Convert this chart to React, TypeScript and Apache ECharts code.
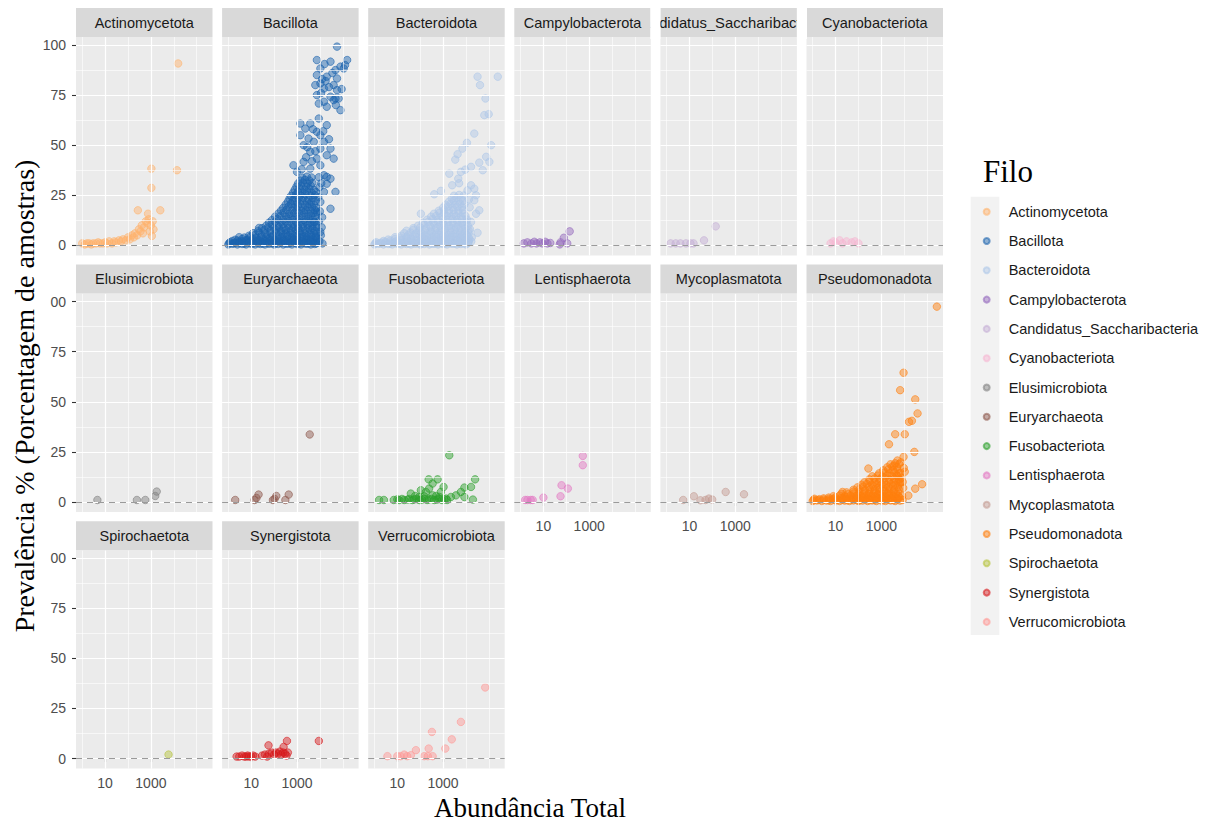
import React, { useEffect, useRef } from "react";
import * as echarts from "echarts";

const phyla = [
  "Actinomycetota", "Bacillota", "Bacteroidota", "Campylobacterota", "Candidatus_Saccharibacteria", "Cyanobacteriota",
  "Elusimicrobiota", "Euryarchaeota", "Fusobacteriota", "Lentisphaerota", "Mycoplasmatota", "Pseudomonadota",
  "Spirochaetota", "Synergistota", "Verrucomicrobiota",
];
const phylumColors = [
  "#FFB26B", "#1B63AE", "#AEC7E8", "#9467BD", "#C5B0D5", "#F7B6D2",
  "#7F7F7F", "#8C564B", "#2CA02C", "#E377C2", "#C49C94", "#FF7F0E",
  "#B5C23A", "#D7191C", "#FF9896",
];
const yTicks = [0, 25, 50, 75, 100];
const yMinorGrid = [12.5, 37.5, 62.5, 87.5];
const xTicks = [10, 1000];
const xMinorGrid = [1, 100, 10000, 100000];
const xTitle = "Abundância Total";
const yTitle = "Prevalência % (Porcentagem de amostras)";
const legendTitle = "Filo";

// [abundância total, prevalência %]
const actinomycetota = [
  [1, 1], [1.3, 0.5], [1.6, 1], [2, 1], [2.5, 0.5], [3, 1], [4, 1], [5, 1.5], [6, 1], [8, 1], [10, 1.5], [12, 1],
  [15, 2], [20, 1], [25, 2], [30, 1.5], [40, 2.5], [50, 2], [60, 3], [80, 2.5], [100, 4], [120, 3], [150, 5],
  [180, 4], [200, 6], [250, 5], [270, 17.5], [300, 8], [350, 7], [400, 10], [450, 6], [500, 9], [600, 12],
  [700, 11], [750, 15.8], [800, 13], [900, 7], [1000, 10], [1050, 38.3], [1050, 28.7], [1100, 4.7], [1200, 12],
  [1300, 8], [2570, 17.5], [13800, 37.5], [15500, 90.8],
];
const bacillota = [
  [56000, 99.2], [7400, 92.5], [155000, 92.5], [29000, 91.7], [10500, 88.3], [79000, 89.2], [48000, 87.5],
  [110000, 88.3], [126000, 90], [16000, 90.5], [7400, 85], [20000, 84.2], [56000, 83.3], [35000, 86], [12600, 83],
  [17800, 82], [10500, 80.8], [40000, 80], [6300, 80], [25000, 79], [89000, 78], [15000, 78.3], [56000, 77.5],
  [11200, 76], [7400, 75], [29000, 74.2], [66000, 73.3], [48000, 73.3], [40000, 72.5], [15000, 71.7], [9000, 70.8],
  [50000, 70], [20000, 69.2], [79000, 67.5],
  [9000, 63.3], [1400, 60.8], [3800, 60.8], [20000, 60], [2300, 58.3], [5000, 58], [14000, 57], [7400, 56.7],
  [10500, 55], [1400, 55], [3200, 53.3], [25000, 53], [15000, 51.7], [5400, 51.7], [1950, 50], [2800, 49],
  [10500, 48.3], [29000, 48.3], [6300, 47], [3800, 46.7], [20000, 45], [2500, 44], [7400, 43.3], [40000, 43.3],
  [4500, 42], [1950, 41.7], [10500, 40], [700, 40], [3800, 38.3], [1600, 38], [1000, 36.7], [15000, 35],
  [20000, 34.2], [29000, 33.3], [20000, 30.8], [15000, 26.7], [48000, 26.7], [10500, 21.7], [29000, 18.3],
  [7400, 16.7], [5400, 11.7], [10500, 6.7], [7400, 3.3], [22, 8.7],
  [9500, 2], [11000, 5], [9000, 12], [12000, 9], [10000, 17], [8500, 24], [9500, 29], [12500, 14], [13000, 1],
  [11500, 31], [9000, 34],
  [1, 0.5], [1.5, 0.8], [2.5, 0.5], [4, 0.7], [6, 0.5], [10, 0.8], [15, 0.5], [25, 0.7], [40, 0.5], [60, 0.8],
  [100, 0.5], [150, 0.7], [250, 0.5], [400, 0.8], [600, 0.5], [1000, 0.7], [1500, 0.5], [2500, 0.8], [4000, 0.5], [6000, 0.7],
  [1.1, 1.1], [1.8, 1.0], [3, 1.2], [5, 0.9], [8, 1.2], [12, 1], [20, 1.1], [32, 0.9], [50, 1.2], [80, 1],
  [120, 1.1], [200, 1.2], [320, 0.9], [500, 1.1], [800, 1.2], [1250, 1], [2000, 1.1], [3200, 0.9], [5000, 1.2], [7000, 1],
  [1.2, 1.6], [2, 1.4], [3, 1.8], [5, 1.5], [8, 1.7], [12, 1.4], [20, 1.8], [30, 1.5], [50, 1.6], [80, 1.4],
  [120, 1.8], [200, 1.5], [300, 1.7], [500, 1.4], [800, 1.8], [1200, 1.5], [2000, 1.6], [3000, 1.4], [5000, 1.8], [8000, 1.5],
  [1.5, 2.2], [2.5, 2.4], [4, 2.1], [6, 2.5], [10, 2.3], [16, 2.2], [25, 2.4], [40, 2.1], [65, 2.5], [100, 2.3],
  [160, 2.2], [250, 2.4], [400, 2.1], [650, 2.5], [1000, 2.3], [1600, 2.2], [2500, 2.4], [4000, 2.1], [6500, 2.3],
  [2, 2.8], [4, 3.2], [7, 2.9], [12, 3.3], [20, 2.8], [35, 3.1], [60, 3.4], [100, 2.9], [170, 3.2], [280, 2.8],
  [450, 3.3], [750, 3], [1200, 2.8], [2000, 3.3], [3200, 3], [5200, 2.9],
  [3, 4.1], [5, 3.9], [9, 4.2], [16, 3.8], [27, 4.1], [45, 4], [80, 4.2], [130, 3.9], [220, 4.1], [360, 4.3],
  [600, 3.9], [1000, 4.1], [1600, 4.2], [2600, 3.9], [4200, 4.1], [6500, 4],
  [8, 4.8], [15, 5.3], [28, 4.9], [50, 5.4], [90, 4.8], [150, 5.2], [250, 5.5], [400, 4.9], [650, 5.3], [1000, 4.8],
  [1600, 5.4], [2600, 5], [4200, 5.2], [6500, 4.8],
  [12, 6.1], [22, 6.4], [40, 6], [70, 6.3], [120, 6.2], [200, 6.5], [320, 6], [520, 6.3], [850, 6.1], [1300, 6.4],
  [2100, 6.2], [3400, 6], [5400, 6.3], [7500, 6.1],
  [20, 7.2], [38, 7.8], [70, 7.4], [120, 7.9], [200, 7.3], [330, 7.7], [550, 7.5], [900, 7.9], [1400, 7.2],
  [2300, 7.6], [3700, 7.8], [6000, 7.3],
  [30, 8.6], [55, 9], [95, 8.7], [160, 9.1], [260, 8.8], [430, 8.6], [700, 9], [1150, 8.7], [1800, 9.1], [3000, 8.8],
  [4800, 8.6], [7200, 9],
  [45, 9.8], [80, 10.4], [140, 9.9], [240, 10.5], [400, 10], [700, 10.3], [1100, 9.7], [1800, 10.4], [2900, 10.1],
  [4700, 9.8], [7500, 10.2],
  [60, 11.3], [110, 11.7], [190, 11.4], [320, 11.8], [540, 11.3], [900, 11.6], [1450, 11.4], [2350, 11.7], [3800, 11.4], [6000, 11.6],
  [80, 12.6], [140, 13.2], [250, 12.8], [420, 13.4], [700, 12.9], [1200, 13.1], [2000, 12.7], [3200, 13.3], [5000, 12.9],
  [110, 14.3], [190, 14.7], [330, 14.4], [560, 14.8], [950, 14.3], [1550, 14.6], [2500, 14.4], [4000, 14.7], [6300, 14.4],
  [150, 15.8], [260, 16.3], [450, 15.7], [750, 16.2], [1200, 16], [2000, 16.4], [3200, 15.8], [5200, 16.2], [7800, 15.9],
  [200, 17.3], [340, 17.7], [580, 17.4], [950, 17.8], [1500, 17.3], [2400, 17.6], [3900, 17.4], [6000, 17.7],
  [250, 18.7], [420, 19.3], [700, 18.9], [1100, 19.4], [1800, 18.8], [2900, 19.2], [4600, 19], [7000, 18.7],
  [320, 20.3], [540, 20.7], [850, 20.4], [1350, 20.8], [2200, 20.3], [3500, 20.6], [5500, 20.4],
  [400, 21.8], [650, 22.3], [1000, 21.7], [1700, 22.4], [2700, 22], [4300, 21.8], [6500, 22.2],
  [470, 23.3], [780, 23.7], [1200, 23.4], [1900, 23.8], [3100, 23.3], [5000, 23.6],
  [550, 24.7], [900, 25.3], [1400, 24.9], [2300, 25.4], [3700, 24.8], [6000, 25.1],
  [680, 26.3], [1100, 26.7], [1700, 26.4], [2700, 26.8], [4400, 26.3], [6800, 26.6],
  [800, 27.8], [1300, 28.3], [2100, 27.9], [3400, 28.4], [5500, 27.7],
  [950, 29.3], [1500, 29.7], [2500, 29.4], [4000, 29.8],
  [1100, 30.8], [1800, 31.3], [2900, 30.9], [4700, 31.2],
  [1400, 32.3], [2200, 32.7], [3500, 32.4],
  [1700, 33.8], [2700, 34.3], [4300, 33.9],
];
const bacteroidota = [
  [245000, 84.2], [32000, 84.2], [41000, 80], [71000, 73.3], [63000, 65], [98000, 65.5], [23000, 55.8], [11000, 51.2],
  [126000, 50], [7000, 48.3], [4300, 45.5], [3400, 42.8], [76000, 44.2], [105000, 41.7], [38000, 41.3], [54000, 37.5],
  [16600, 39.2], [9300, 37.8], [1860, 35.8], [6000, 36.7], [4600, 33.3], [800, 27.2], [410, 25.5], [107, 15.8],
  [32000, 6.3], [27500, 15.8], [38000, 17.5], [16600, 11.7], [23000, 22.5], [27500, 25], [11700, 27.5], [16600, 30],
  [23000, 28.3], [2500, 30], [5000, 31],
  [17000, 2], [15000, 8], [14500, 19], [18000, 4], [13500, 23],
  [1, 0.5], [1.5, 0.8], [2.5, 0.5], [4, 0.7], [6, 0.5], [10, 0.8], [15, 0.5], [25, 0.7], [40, 0.5], [60, 0.8], [100, 0.5],
  [150, 0.7], [250, 0.5], [400, 0.8], [600, 0.5], [1000, 0.7], [1500, 0.5], [2500, 0.8], [4000, 0.5], [6000, 0.7], [10000, 0.5],
  [1.1, 1.1], [1.8, 1], [3, 1.2], [5, 0.9], [8, 1.2], [12, 1], [20, 1.1], [32, 0.9], [50, 1.2], [80, 1], [120, 1.1],
  [200, 1.2], [320, 0.9], [500, 1.1], [800, 1.2], [1250, 1], [2000, 1.1], [3200, 0.9], [5000, 1.2], [8000, 1], [12000, 1.1],
  [1.2, 1.6], [2, 1.4], [3, 1.8], [5, 1.5], [8, 1.7], [12, 1.4], [20, 1.8], [30, 1.5], [50, 1.6], [80, 1.4], [120, 1.8],
  [200, 1.5], [300, 1.7], [500, 1.4], [800, 1.8], [1200, 1.5], [2000, 1.6], [3000, 1.4], [5000, 1.8], [8000, 1.5], [13000, 1.6],
  [2.5, 2.2], [5, 2.4], [9, 2.1], [16, 2.5], [28, 2.3], [45, 2.2], [75, 2.4], [120, 2.1], [200, 2.5], [320, 2.3],
  [520, 2.2], [850, 2.4], [1350, 2.1], [2200, 2.5], [3500, 2.3], [5500, 2.2], [9000, 2.4], [13000, 2.1],
  [4, 2.9], [8, 3.2], [14, 2.8], [25, 3.3], [40, 3], [70, 2.8], [110, 3.3], [180, 3], [300, 2.9], [500, 3.2], [800, 2.8],
  [1300, 3.3], [2100, 3], [3400, 2.9], [5500, 3.2], [9000, 2.8], [14000, 3.1],
  [8, 4.1], [14, 3.9], [25, 4.2], [40, 3.8], [70, 4.1], [120, 4], [200, 4.2], [320, 3.9], [520, 4.1], [850, 4.3],
  [1350, 3.9], [2200, 4.1], [3500, 4.2], [5500, 3.9], [9000, 4.1], [13000, 4],
  [15, 4.8], [30, 5.2], [50, 4.9], [90, 5.3], [150, 4.8], [250, 5.2], [400, 5], [650, 5.4], [1000, 4.8], [1600, 5.2],
  [2600, 5], [4200, 5.3], [6800, 4.9], [11000, 5.2],
  [20, 6.1], [38, 6.4], [65, 6], [110, 6.3], [190, 6.2], [320, 6.5], [520, 6], [850, 6.3], [1350, 6.1], [2200, 6.4],
  [3500, 6.2], [5500, 6], [9000, 6.3], [13000, 6.1],
  [25, 7.3], [50, 7.7], [90, 7.4], [160, 7.8], [280, 7.2], [450, 7.6], [750, 7.4], [1200, 7.8], [2000, 7.3], [3200, 7.7],
  [5200, 7.5], [8500, 7.2], [13000, 7.6],
  [50, 8.6], [100, 9], [180, 8.7], [300, 9.1], [500, 8.8], [850, 8.6], [1400, 9], [2300, 8.7], [3700, 9.1], [6000, 8.8], [9500, 8.6],
  [80, 9.8], [150, 10.3], [260, 9.9], [420, 10.4], [700, 10], [1100, 10.2], [1800, 9.8], [2900, 10.4], [4700, 10],
  [7500, 10.3], [12000, 9.8],
  [130, 11.3], [220, 11.7], [370, 11.4], [600, 11.8], [1000, 11.3], [1600, 11.6], [2600, 11.4], [4200, 11.7], [6800, 11.4], [10500, 11.6],
  [200, 12.8], [350, 13.2], [600, 12.7], [1000, 13.3], [1600, 12.9], [2600, 13.2], [4200, 12.8], [6800, 13.1], [11000, 12.9],
  [300, 14.3], [500, 14.7], [850, 14.4], [1400, 14.8], [2300, 14.3], [3700, 14.6], [6000, 14.4], [9500, 14.7],
  [400, 15.8], [700, 16.3], [1100, 15.9], [1800, 16.2], [2900, 15.7], [4700, 16.3], [7500, 16],
  [650, 17.3], [1100, 17.7], [1800, 17.4], [2900, 17.8], [4700, 17.3], [7500, 17.6],
  [1000, 18.8], [1600, 19.3], [2600, 18.9], [4200, 19.2], [6800, 19],
  [1300, 20.3], [2100, 20.7], [3400, 20.4], [5500, 20.8], [8500, 20.4],
  [1800, 21.8], [2900, 22.3], [4700, 21.9], [7500, 22.2],
  [2400, 23.3], [3800, 23.7], [6000, 23.4],
  [3000, 24.8], [5000, 25.2], [8000, 24.9],
];
const campylobacterota = [
  [1.4, 1], [2, 1.5], [3, 1], [4, 1.8], [5, 1], [7, 1.5], [9, 1], [12, 1.8], [15, 1], [20, 1.2], [52, 0.5], [56, 1.5],
  [78, 3.8], [110, 1], [141, 7],
];
const candidatusSaccharibacteria = [
  [1.5, 1], [2.5, 1], [4, 1], [7, 1], [11, 1], [15, 1], [43, 2.5], [140, 9.5],
];
const cyanobacteriota = [
  [6, 1], [8, 2], [10, 1.5], [15, 2.5], [20, 1], [30, 2], [50, 1.5], [70, 2], [100, 1],
];
const elusimicrobiota = [
  [4.6, 1], [245, 1], [570, 1], [1550, 3], [1800, 5.2],
];
const euryarchaeota = [
  [2, 1], [14, 1], [17, 2], [21, 3.7], [89, 1], [105, 1.5], [125, 3], [310, 1], [435, 3.7], [3600, 33.7],
];
const fusobacteriota = [
  [1.6, 1], [2.6, 1], [7, 1], [10, 1.3], [12, 1], [16, 1.5], [20, 1], [28, 1.2], [33, 1.5], [45, 1], [55, 1.3],
  [70, 1.5], [91, 1], [120, 1.2], [150, 1.5], [200, 1], [245, 1.3], [320, 1.5], [410, 1], [550, 1.2], [680, 1.5],
  [900, 1], [1120, 1.3], [1350, 1.7], [1500, 1], [2200, 2.5], [3650, 3.3], [6000, 5], [8500, 2.5], [8500, 7.2],
  [16600, 7.5], [20000, 1.2], [25000, 11.3], [39, 4.2], [91, 2.5], [107, 5.85], [178, 5], [245, 6.7], [350, 3.3],
  [235, 11.3], [575, 11.3], [1050, 7.5], [350, 9.2], [1860, 23.3], [60, 3], [150, 2.8], [500, 3], [700, 2.5], [800, 5],
];
const lentisphaerota = [
  [1.6, 1], [2, 1], [2.8, 1], [3.4, 1], [10, 2.2], [56, 2.85], [62, 8.35], [117, 6.7], [525, 18.35], [525, 23],
];
const mycoplasmatota = [
  [5.3, 1], [15.5, 2.85], [30, 0.85], [50, 1], [70, 1.7], [98, 1.2], [380, 5], [2400, 3.85],
];
const pseudomonadota = [
  [265000, 97.5], [9300, 64.5], [6600, 55.8], [30000, 51.2], [38000, 44.2], [21500, 40.5], [16000, 40], [4000, 33.8],
  [10500, 33.8], [2150, 28.8], [27500, 25], [9300, 22.5], [270, 16.7], [7000, 19.8], [5000, 20.7], [3600, 18.2],
  [10500, 15.1], [7000, 14.5], [8500, 10], [5000, 13], [7000, 9.8], [60000, 8.85], [30000, 6.65], [15000, 3.2], [20, 5],
  [8000, 3], [9000, 7], [7500, 12], [9500, 17], [8500, 1],
  [1, 0.5], [1.5, 0.8], [2.5, 0.5], [4, 0.7], [6, 0.5], [10, 0.8], [15, 0.5], [25, 0.7], [40, 0.5], [60, 0.8], [100, 0.5],
  [150, 0.7], [250, 0.5], [400, 0.8], [600, 0.5], [1000, 0.7], [1500, 0.5], [2500, 0.8], [4000, 0.5], [6500, 0.7],
  [1.1, 1.1], [1.8, 1], [3, 1.2], [5, 0.9], [8, 1.2], [12, 1], [20, 1.1], [32, 0.9], [50, 1.2], [80, 1], [120, 1.1],
  [200, 1.2], [320, 0.9], [500, 1.1], [800, 1.2], [1250, 1], [2000, 1.1], [3200, 0.9], [5000, 1.2],
  [1.2, 1.6], [2, 1.4], [3, 1.8], [5, 1.5], [8, 1.7], [12, 1.4], [20, 1.8], [30, 1.5], [50, 1.6], [80, 1.4], [120, 1.8],
  [200, 1.5], [300, 1.7], [500, 1.4], [800, 1.8], [1200, 1.5], [2000, 1.6], [3000, 1.4], [5000, 1.8],
  [5, 2.2], [10, 2.4], [18, 2.1], [30, 2.5], [55, 2.3], [90, 2.2], [150, 2.4], [250, 2.1], [400, 2.5], [650, 2.3],
  [1000, 2.2], [1600, 2.4], [2600, 2.1], [4200, 2.5], [6000, 2.3],
  [8, 2.9], [15, 3.2], [25, 2.8], [45, 3.3], [80, 3], [130, 2.8], [220, 3.3], [350, 3], [550, 2.9], [900, 3.2],
  [1400, 2.8], [2200, 3.3], [3500, 3], [5500, 2.9],
  [18, 4.1], [35, 3.9], [60, 4.2], [100, 3.8], [170, 4.1], [280, 4], [450, 4.2], [700, 3.9], [1100, 4.1], [1800, 4.3],
  [2800, 3.9], [4500, 4.1],
  [30, 4.8], [60, 5.2], [110, 4.9], [180, 5.3], [300, 4.8], [500, 5.2], [800, 5], [1300, 5.4], [2100, 4.8], [3400, 5.2], [5500, 5],
  [60, 6.1], [110, 6.4], [190, 6], [320, 6.3], [520, 6.2], [850, 6.5], [1400, 6], [2300, 6.3], [3700, 6.1], [5800, 6.4],
  [90, 7.3], [160, 7.7], [280, 7.4], [450, 7.8], [750, 7.2], [1200, 7.6], [2000, 7.4], [3200, 7.8], [5200, 7.3],
  [140, 8.6], [230, 9], [380, 8.7], [620, 9.1], [1000, 8.8], [1600, 8.6], [2600, 9], [4200, 8.7], [6200, 9.1],
  [180, 9.8], [300, 10.3], [500, 9.9], [800, 10.4], [1300, 10], [2100, 10.2], [3400, 9.8], [5500, 10.3],
  [300, 11.3], [500, 11.7], [850, 11.4], [1400, 11.8], [2300, 11.3], [3700, 11.6], [5800, 11.4],
  [400, 12.8], [700, 13.2], [1100, 12.7], [1800, 13.3], [2900, 12.9], [4700, 13.2],
  [800, 14.3], [1400, 14.7], [2300, 14.4], [3700, 14.8], [5800, 14.3],
  [1200, 15.8], [2000, 16.3], [3200, 15.9], [5000, 16.2],
  [1800, 17.3], [3000, 17.7], [4800, 17.4],
  [2500, 18.8], [4000, 19.3], [6000, 18.9],
];
const spirochaetota = [[5900, 2]];
const synergistota = [
  [2.3, 1], [3, 1], [4, 1.5], [5, 1], [6, 1], [7, 1.5], [8, 1], [10, 1], [12, 1.5], [15, 1], [30, 1.5], [40, 2], [50, 1],
  [60, 2.5], [80, 3], [100, 2], [120, 3], [150, 2.5], [180, 3.5], [200, 2], [250, 3], [300, 2.5], [350, 1.5], [400, 3],
  [57, 6.6], [260, 5.8], [365, 8.8], [9000, 8.8],
];
const verrucomicrobiota = [
  [3.7, 1.2], [10, 1.2], [14, 1.2], [20, 2], [27, 1.2], [39, 1.7], [65, 4.2], [150, 1.2], [215, 1.2], [235, 5],
  [350, 1.2], [325, 13.3], [1250, 5], [2400, 9.6], [6000, 18.3], [69000, 35.5],
];

const phylumData = [
  actinomycetota, bacillota, bacteroidota, campylobacterota, candidatusSaccharibacteria, cyanobacteriota,
  elusimicrobiota, euryarchaeota, fusobacteriota, lentisphaerota, mycoplasmatota, pseudomonadota,
  spirochaetota, synergistota, verrucomicrobiota,
];

const SANS = '"Liberation Sans", Arial, sans-serif';
const SERIF = '"Liberation Serif", "Times New Roman", serif';

function rgba(hex: string, a: number) {
  const n = parseInt(hex.slice(1), 16);
  return `rgba(${(n >> 16) & 255},${(n >> 8) & 255},${n & 255},${a})`;
}

export default function App() {
  const ref = useRef<HTMLDivElement>(null);
  useEffect(() => {
    if (!ref.current) return;
    const chart = echarts.init(ref.current, null, { renderer: "svg" });

    const X_MIN = Math.pow(10, -0.271);
    const X_MAX = Math.pow(10, 5.691);
    const COL0 = 76, COL_STEP = 146.1, PW = 136.5;
    const ROW0 = 8, ROW_STEP = 256.6, STRIP_H = 29, PH = 218.4;

    const grids: any[] = [];
    const xAxes: any[] = [];
    const yAxes: any[] = [];
    const series: any[] = [];
    const graphics: any[] = [];

    const gridLines = [
      ...xMinorGrid.map((v) => ({ xAxis: v, lineStyle: { color: "#FFFFFF", width: 0.6, type: "solid" } })),
      ...xTicks.map((v) => ({ xAxis: v, lineStyle: { color: "#FFFFFF", width: 1.2, type: "solid" } })),
      ...yMinorGrid.map((v) => ({ yAxis: v, lineStyle: { color: "#FFFFFF", width: 0.6, type: "solid" } })),
      ...yTicks.map((v) => ({ yAxis: v, lineStyle: { color: "#FFFFFF", width: 1.2, type: "solid" } })),
      { yAxis: 0, lineStyle: { color: "#9A9A9A", width: 1, type: [6, 5] } },
    ];

    phyla.forEach((name, i) => {
      const r = Math.floor(i / 6);
      const c = i % 6;
      const left = COL0 + c * COL_STEP;
      const stripTop = ROW0 + r * ROW_STEP;
      const top = stripTop + STRIP_H;
      const showX = i >= 9;
      const showY = c === 0;

      grids.push({
        left, top, width: PW, height: PH, show: true,
        backgroundColor: "#EBEBEB", borderWidth: 0, borderColor: "transparent", containLabel: false,
      });
      xAxes.push({
        type: "log", logBase: 10, gridIndex: i, min: X_MIN, max: X_MAX,
        axisLine: { show: false },
        splitLine: { show: false },
        axisTick: { show: showX, customValues: xTicks, length: 4, lineStyle: { color: "#333333", width: 1.1 } },
        axisLabel: {
          show: showX, customValues: xTicks, formatter: (v: number) => String(Math.round(v)),
          color: "#4D4D4D", fontSize: 14, fontFamily: SANS, margin: 7,
        },
      });
      yAxes.push({
        type: "value", gridIndex: i, min: -5, max: 104,
        axisLine: { show: false },
        splitLine: { show: false },
        axisTick: { show: showY, customValues: yTicks, length: 4, lineStyle: { color: "#333333", width: 1.1 } },
        axisLabel: {
          show: showY, customValues: yTicks,
          formatter: (v: number) => (r > 0 && v === 100 ? "00" : String(v)),
          color: "#4D4D4D", fontSize: 14, fontFamily: SANS, margin: 10,
        },
      });
      series.push({
        type: "scatter", name: "grade_" + i, xAxisIndex: i, yAxisIndex: i, z: 1, silent: true,
        data: [[1, 0]], symbolSize: 0, itemStyle: { opacity: 0 },
        markLine: {
          silent: true, symbol: ["none", "none"], label: { show: false }, animation: false,
          emphasis: { disabled: true }, data: gridLines,
        },
      });
      const col = phylumColors[i];
      series.push({
        type: "scatter", name, xAxisIndex: i, yAxisIndex: i, z: 3,
        data: phylumData[i], symbolSize: 7.5,
        itemStyle: { color: rgba(col, 0.58), borderColor: rgba(col, 0.72), borderWidth: 1 },
        emphasis: { disabled: true },
      });

      const isCand = name === "Candidatus_Saccharibacteria";
      graphics.push({
        type: "rect", silent: true, z: isCand ? 100 : 120,
        shape: { x: left, y: stripTop, width: PW, height: STRIP_H },
        style: { fill: "#D9D9D9" },
      });
      graphics.push({
        type: "text", silent: true, z: isCand ? 101 : 130,
        x: left + PW / 2, y: stripTop + STRIP_H / 2,
        style: {
          text: name, fill: "#1A1A1A", fontSize: isCand ? 14.8 : 14.5, fontFamily: SANS,
          textAlign: "center", textVerticalAlign: "middle", align: "center", verticalAlign: "middle",
        },
      });
      if (isCand) {
        graphics.push({
          type: "rect", silent: true, z: 125,
          shape: { x: left - (COL_STEP - PW) - 0.5, y: stripTop - 2, width: COL_STEP - PW + 0.5, height: STRIP_H + 4 },
          style: { fill: "#FFFFFF", stroke: "none" },
        });
        graphics.push({
          type: "rect", silent: true, z: 125,
          shape: { x: left + PW, y: stripTop - 2, width: COL_STEP - PW + 0.5, height: STRIP_H + 4 },
          style: { fill: "#FFFFFF", stroke: "none" },
        });
      }
    });

    graphics.push({
      type: "rect", silent: true, z: 0,
      shape: { x: 970.7, y: 196.7, width: 28.6, height: 438.3 },
      style: { fill: "#F2F2F2" },
    });
    graphics.push({
      type: "text", silent: true, z: 10, x: 983, y: 171,
      style: {
        text: legendTitle, fill: "#000000", fontSize: 31, fontFamily: SERIF,
        textAlign: "left", textVerticalAlign: "middle", align: "left", verticalAlign: "middle",
      },
    });
    graphics.push({
      type: "text", silent: true, z: 10, x: 530, y: 808,
      style: {
        text: xTitle, fill: "#000000", fontSize: 27, fontFamily: SERIF,
        textAlign: "center", textVerticalAlign: "middle", align: "center", verticalAlign: "middle",
      },
    });
    graphics.push({
      type: "text", silent: true, z: 10, x: 24, y: 396, rotation: Math.PI / 2,
      style: {
        text: yTitle, fill: "#000000", fontSize: 28, fontFamily: SERIF,
        textAlign: "center", textVerticalAlign: "middle", align: "center", verticalAlign: "middle",
      },
    });

    chart.setOption({
      animation: false,
      backgroundColor: "#FFFFFF",
      grid: grids,
      xAxis: xAxes,
      yAxis: yAxes,
      series,
      legend: {
        data: phyla, orient: "vertical", left: 982.7, top: 203.7, padding: 0, z: 5,
        itemWidth: 34, itemHeight: 6, itemGap: 13.3, icon: "circle", selectedMode: false,
        textStyle: { fontSize: 14.5, fontFamily: SANS, color: "#1A1A1A", lineHeight: 16 },
      },
      graphic: graphics,
    });
    return () => chart.dispose();
  }, []);
  return (
    <div
      ref={ref}
      style={{ position: "fixed", left: 0, top: 0, width: 1211, height: 825, background: "#FFFFFF" }}
    />
  );
}
